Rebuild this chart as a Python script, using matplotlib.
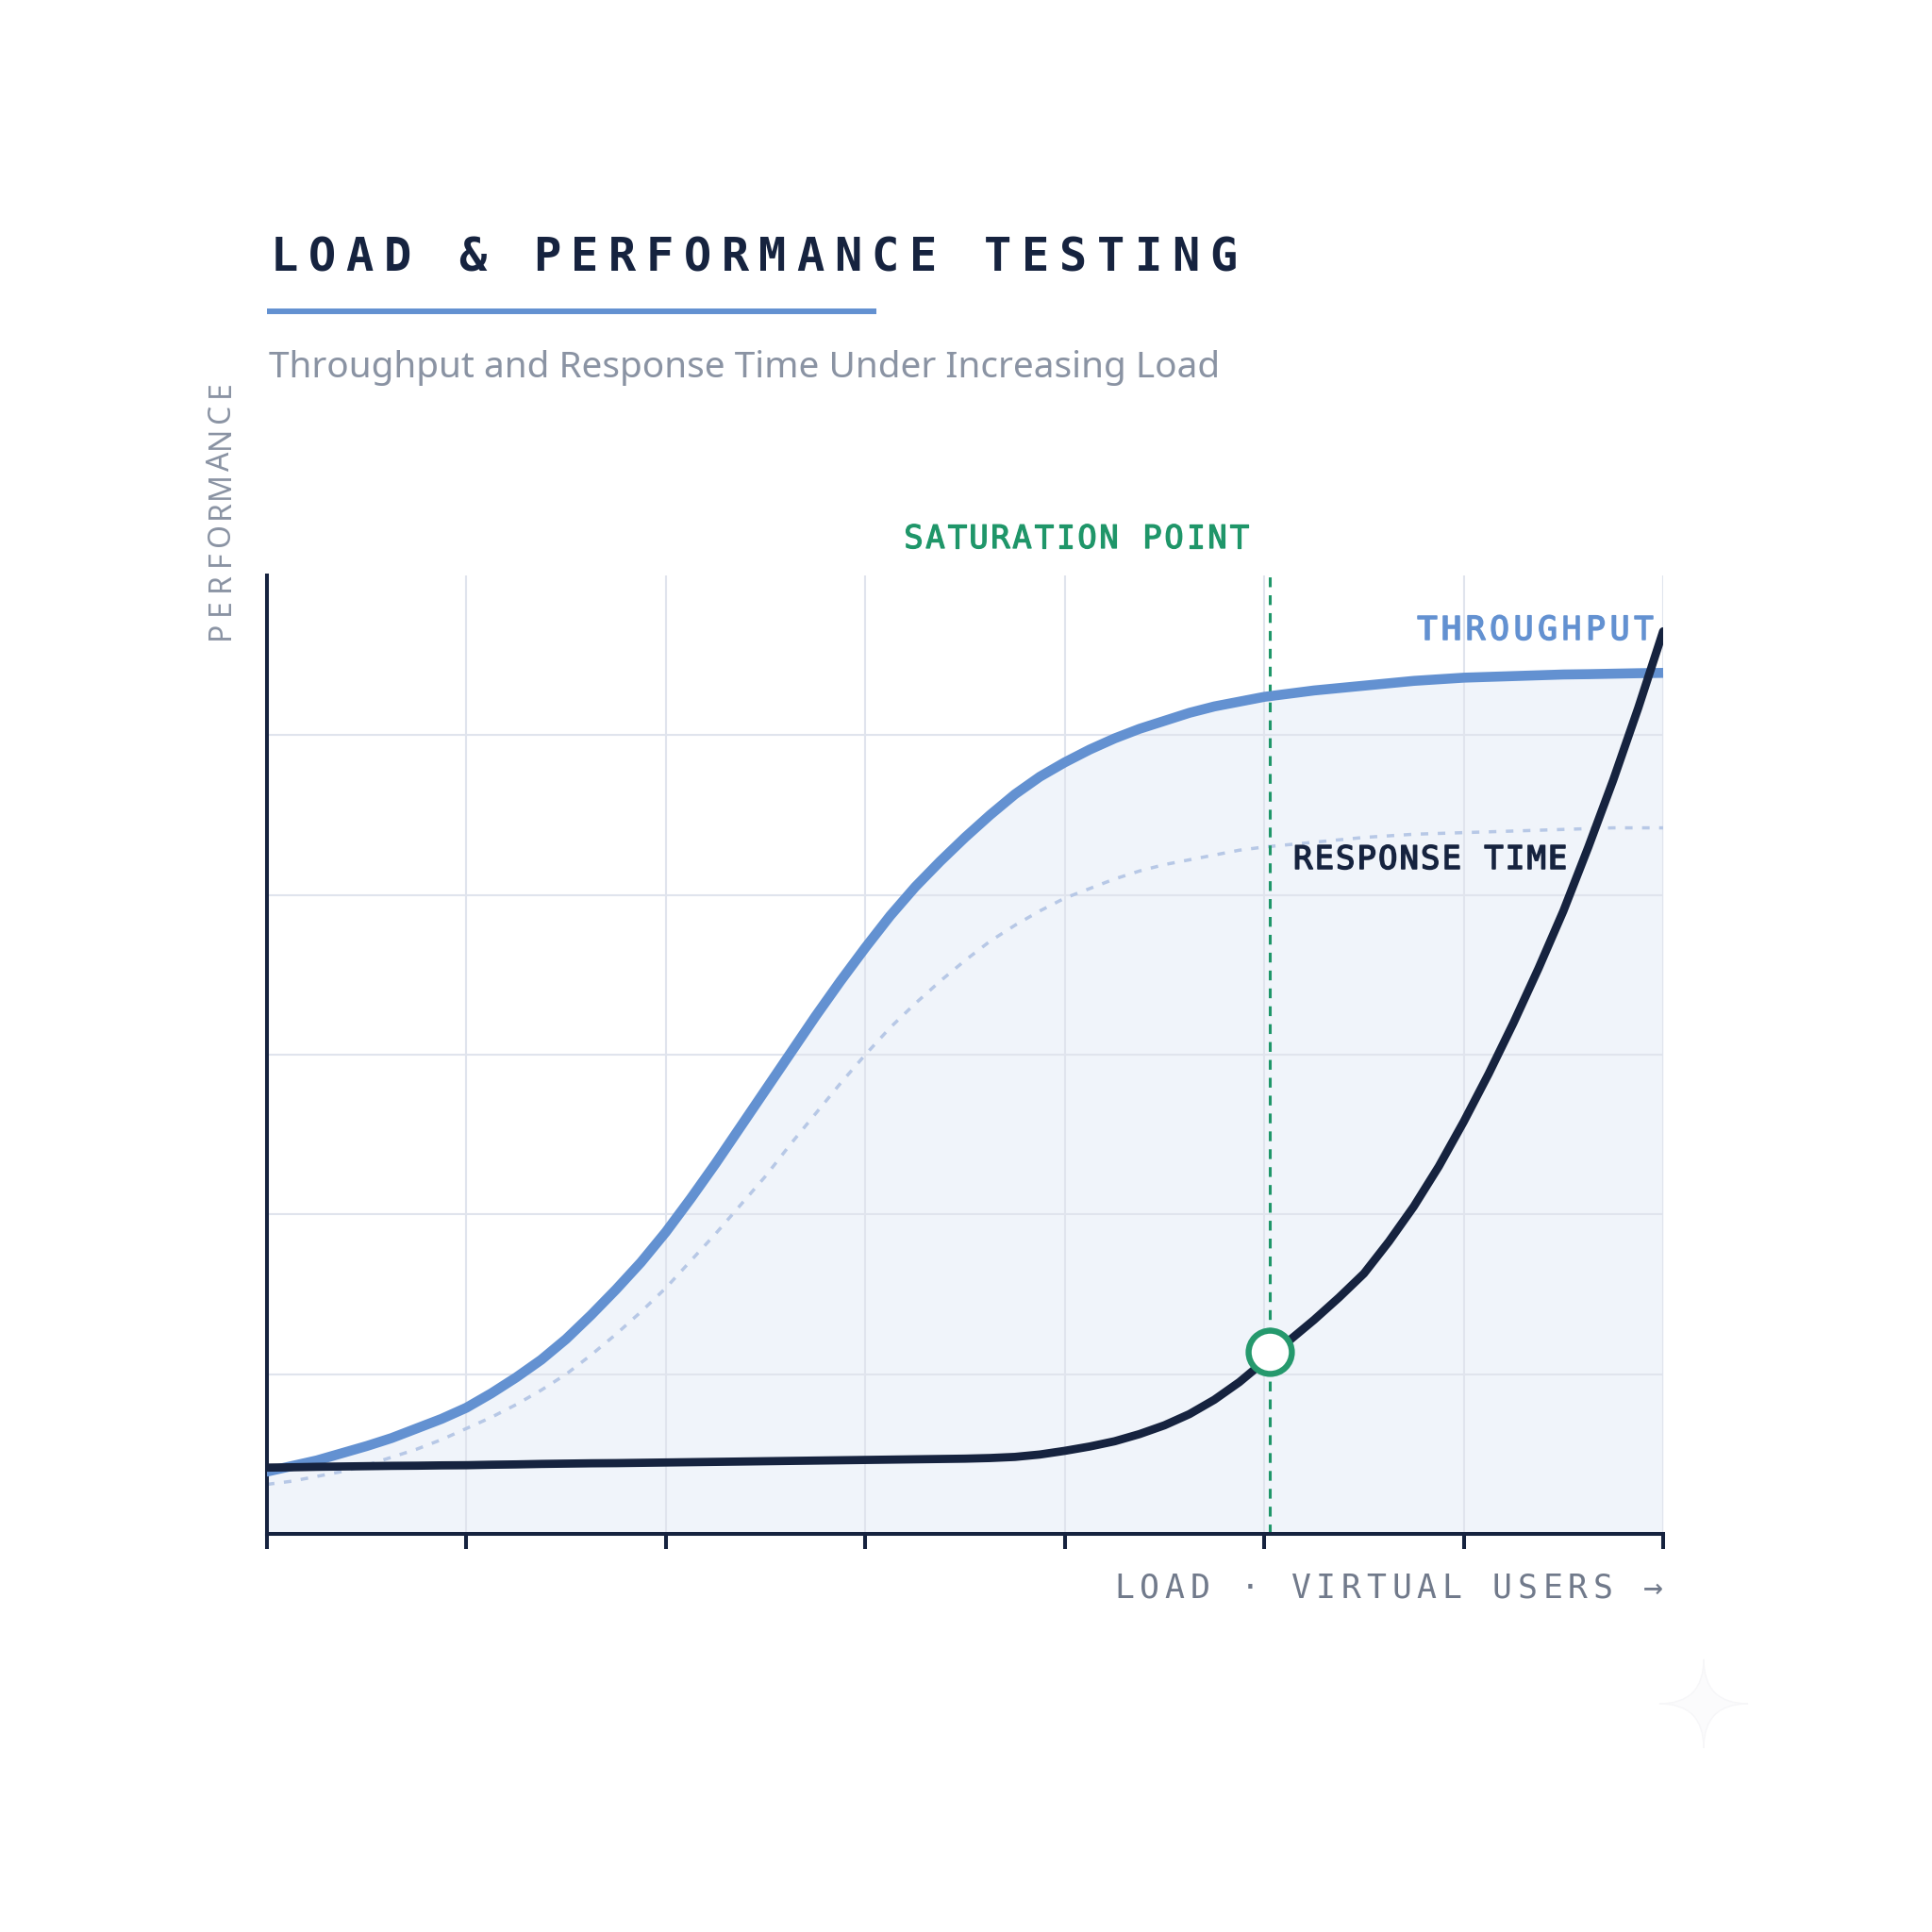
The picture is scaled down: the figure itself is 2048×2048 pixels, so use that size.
import matplotlib
matplotlib.use('Agg')
import matplotlib.pyplot as plt
import matplotlib.patheffects as pe
from matplotlib.path import Path
from matplotlib.patches import PathPatch

# ---------------- data ----------------
load_x = [0, 1.25, 2.5, 3.75, 5, 6.25, 7.5, 8.75, 10, 11.25, 12.5, 13.75, 15, 16.25, 17.5, 18.75,
          20, 21.25, 22.5, 23.75, 25, 26.25, 27.5, 28.75, 30, 31.25, 32.5, 33.75, 35, 36.25, 37.5,
          38.75, 40, 41.25, 42.5, 43.75, 45, 46.25, 47.5, 48.75, 50, 51.25, 52.5, 53.75, 55, 56.25,
          57.5, 58.75, 60, 61.25, 62.5, 63.75, 65, 66.25, 67.5, 68.75, 70]
throughput = [3.9, 4.25, 4.6, 5.05, 5.5, 6.0, 6.6, 7.2, 7.9, 8.8, 9.8, 10.9, 12.2, 13.7, 15.3, 17.0,
              18.9, 21.0, 23.2, 25.5, 27.8, 30.1, 32.4, 34.6, 36.7, 38.7, 40.5, 42.1, 43.6, 45.0, 46.3,
              47.4, 48.3, 49.1, 49.8, 50.4, 50.9, 51.4, 51.8, 52.1, 52.4, 52.6, 52.8, 52.95, 53.1, 53.25,
              53.4, 53.5, 53.6, 53.65, 53.7, 53.75, 53.8, 53.82, 53.85, 53.88, 53.9]
throughput_ghost = [3.1, 3.3, 3.6, 3.9, 4.3, 4.8, 5.3, 5.9, 6.6, 7.3, 8.1, 9.0, 10.0, 11.2, 12.5, 13.9,
                    15.4, 17.1, 18.8, 20.6, 22.4, 24.4, 26.3, 28.2, 30.0, 31.7, 33.2, 34.6, 35.9, 37.1,
                    38.1, 39.0, 39.8, 40.4, 41.0, 41.5, 41.9, 42.2, 42.5, 42.8, 43.0, 43.15, 43.3, 43.45,
                    43.6, 43.7, 43.8, 43.85, 43.9, 43.95, 44.0, 44.05, 44.1, 44.15, 44.2, 44.2, 44.2]
response_time = [4.15, 4.17, 4.2, 4.22, 4.24, 4.26, 4.27, 4.29, 4.3, 4.33, 4.35, 4.38, 4.4, 4.42, 4.43,
                 4.45, 4.47, 4.49, 4.51, 4.53, 4.55, 4.57, 4.59, 4.61, 4.63, 4.65, 4.67, 4.69, 4.71,
                 4.75, 4.82, 4.97, 5.2, 5.47, 5.8, 6.25, 6.8, 7.5, 8.4, 9.5, 10.8, 12.1, 13.4, 14.8,
                 16.3, 18.3, 20.5, 23.0, 25.8, 28.8, 32.0, 35.4, 39.0, 43.0, 47.2, 51.7, 56.5]
sat_load = 50.3
sat_response = 11.4
x_ticks = [0, 10, 20, 30, 40, 50, 60, 70]
y_grid = [10, 20, 30, 40, 50]

title = "LOAD & PERFORMANCE TESTING"
subtitle = "Throughput and Response Time Under Increasing Load"
y_label = "PERFORMANCE"
x_label = "LOAD · VIRTUAL USERS →"
sat_label = "SATURATION POINT"
tp_label = "THROUGHPUT"
rt_label = "RESPONSE TIME"

# ---------------- style ----------------
W = H = 2048
DPI = 100
NAVY = '#16233f'
BLUE = '#6391d1'
GHOST = '#b7c8e6'
GREEN = '#1f9669'
GRAY = '#8a93a3'
GRAY2 = '#717a8b'
GRID = '#e0e4ed'
MONO = 'DejaVu Sans Mono'
SANS = 'Noto Sans'

fig = plt.figure(figsize=(W / DPI, H / DPI), dpi=DPI)
fig.patch.set_facecolor('white')

PX = 72.0 / DPI  # points per pixel


def spaced(x_px, y_px, s, pitch, size, color, align='left', weight='normal', family=MONO,
           stroke=0.0):
    """Letter-spaced text in figure pixel coords (y measured from top)."""
    em = size / PX
    cw = 0.602 * em
    n = len(s)
    if align == 'left':
        c0 = x_px + cw / 2
    elif align == 'center':
        c0 = x_px - pitch * (n - 1) / 2
    else:
        c0 = x_px - cw / 2 - pitch * (n - 1)
    effects = [pe.withStroke(linewidth=stroke, foreground=color)] if stroke > 0 else None
    for i, ch in enumerate(s):
        if ch == ' ':
            continue
        fig.text((c0 + i * pitch) / W, 1 - y_px / H, ch, ha='center', va='baseline',
                 fontsize=size, color=color, fontweight=weight, family=family,
                 path_effects=effects)


# ---------------- axes ----------------
L, R, T, B = 283, 1763, 610, 1626
ax = fig.add_axes([L / W, 1 - B / H, (R - L) / W, (B - T) / H])
ax.set_facecolor('white')
ax.set_xlim(0, 70)
ax.set_ylim(0, 60)
ax.set_xticks(x_ticks)
ax.set_xticklabels([])
ax.set_yticks(y_grid)
ax.set_yticklabels([])
ax.set_axisbelow(True)
ax.grid(True, color=GRID, linewidth=1.5)
for s in ['top', 'right']:
    ax.spines[s].set_visible(False)
for s in ['left', 'bottom']:
    ax.spines[s].set_color(NAVY)
    ax.spines[s].set_linewidth(2.9)
ax.tick_params(axis='x', direction='out', length=11.5, width=2.9, color=NAVY)
ax.tick_params(axis='y', length=0)

ax.fill_between(load_x, 0, throughput, color='#5b8bd0', alpha=0.085, linewidth=0, zorder=0.3)

ax.plot(load_x, throughput_ghost, color=GHOST, lw=2.5, linestyle=(0, (2.3, 2.9)), zorder=2)
ax.axvline(sat_load, color=GREEN, lw=2.2, linestyle=(0, (3.4, 2.8)), zorder=2.5)
ax.plot(load_x, throughput, color=BLUE, lw=7.6, solid_capstyle='round', solid_joinstyle='round',
        zorder=3)
ax.plot(load_x, response_time, color=NAVY, lw=6.3, solid_capstyle='round', solid_joinstyle='round',
        zorder=4)
ax.plot([sat_load], [sat_response], marker='o', markersize=33, markerfacecolor='white',
        markeredgecolor='#25996d', markeredgewidth=4.6, zorder=5)

# ---------------- texts ----------------
spaced(287, 287, title, 39.8, 35, NAVY, weight='bold')
fig.add_artist(plt.Line2D([283 / W, 929 / W], [1 - 330 / H, 1 - 330 / H], color=BLUE, lw=4.3,
                          solid_capstyle='butt'))

st = fig.text(285 / W, 1 - 400 / H, subtitle, ha='left', va='baseline', fontsize=30,
              color=GRAY, family=SANS)
r = fig.canvas.get_renderer()
wid = st.get_window_extent(r).width
st.set_fontsize(30 * 1007 / wid)

# rotated y label, letter spaced, reading bottom to top
em = 23 / PX
pitch_y = 25.6
for i, ch in enumerate(y_label):
    yc = 678 - 0.3 * em - i * pitch_y
    fig.text(243 / W, 1 - yc / H, ch, rotation=90, rotation_mode='anchor', ha='center',
             va='baseline', fontsize=23, color=GRAY, family=SANS)

spaced(1141, 581, sat_label, 23.0, 24.5, GREEN, align='center', stroke=0.9)
spaced(1753, 678, tp_label, 25.5, 25, BLUE, align='right', stroke=1.1)
spaced(1371, 921, rt_label, 22.5, 24.5, NAVY, align='left', stroke=1.1)
spaced(1763, 1694, x_label, 26.7, 25, GRAY2, align='right')

# faint sparkle decoration bottom-right
cx, cy, rr = 1806, 1806, 47
verts = [(cx, cy + rr), (cx, cy), (cx + rr, cy), (cx, cy), (cx, cy - rr), (cx, cy), (cx - rr, cy),
         (cx, cy), (cx, cy + rr)]
codes = [Path.MOVETO, Path.CURVE3, Path.CURVE3, Path.CURVE3, Path.CURVE3, Path.CURVE3, Path.CURVE3,
         Path.CURVE3, Path.CURVE3]
verts_f = [(x / W, 1 - y / H) for x, y in verts]
fig.add_artist(PathPatch(Path(verts_f, codes), transform=fig.transFigure, facecolor='#fbfbfc',
                         edgecolor='#f6f6f8', lw=1))

fig.savefig('out.png', dpi=DPI, facecolor='white')
